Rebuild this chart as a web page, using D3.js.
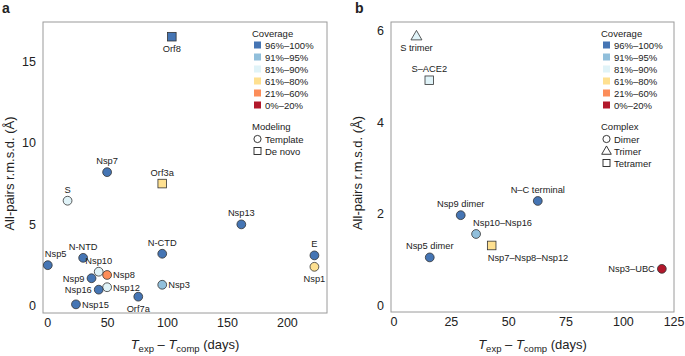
<!DOCTYPE html>
<html lang="en">
<head>
<meta charset="utf-8">
<style>
  body { margin: 0; background: #fff; }
  text { font-family: "Liberation Sans", Arial, sans-serif; fill: #222; }
</style>
</head>
<body>
<script src="https://d3js.org/d3.v7.min.js"></script>
<svg width="685" height="356"></svg>
<script>
    // coverage bins and colours
    var coverageBins = ["96%–100%", "91%–95%", "81%–90%", "61%–80%", "21%–60%", "0%–20%"];
    var coverageColors = ["#4575b4", "#91bfdb", "#e0f3f8", "#fee090", "#fc8d59", "#b2182b"];

    // panel a: single proteins
    var namesA = ["Orf8", "Nsp7", "Orf3a", "S", "Nsp13", "Nsp5", "N-NTD", "N-CTD", "E", "Nsp1",
        "Nsp10", "Nsp8", "Nsp9", "Nsp12", "Nsp3", "Nsp16", "Orf7a", "Nsp15"];
    var daysA = [104, 50, 96, 17, 162, 0.5, 30, 96, 223, 223, 43, 50, 37, 50, 96, 43, 76, 24];
    var rmsdA = [16.5, 8.2, 7.5, 6.45, 5.0, 2.5, 2.95, 3.2, 3.1, 2.4, 2.1, 1.9, 1.7, 1.15, 1.3, 1.0, 0.57, 0.1];
    var coverageA = [0, 0, 3, 2, 0, 0, 0, 0, 0, 3, 2, 4, 0, 2, 1, 0, 0, 0];
    var modelingA = ["De novo", "Template", "De novo", "Template", "Template", "Template", "Template", "Template",
        "Template", "Template", "Template", "Template", "Template", "Template", "Template", "Template", "Template", "Template"];
    var labelPosA = ["below", "above", "above", "above", "above", "aboveright", "above", "above", "above", "below",
        "above", "right", "left", "right", "right", "left", "below", "right"];

    // panel b: complexes
    var namesB = ["S trimer", "S–ACE2", "Nsp9 dimer", "Nsp10–Nsp16", "Nsp7–Nsp8–Nsp12", "Nsp5 dimer", "N–C terminal", "Nsp3–UBC"];
    var daysB = [10, 15.6, 29.3, 36, 42.8, 15.8, 62.9, 117];
    var rmsdB = [5.87, 4.91, 1.97, 1.56, 1.31, 1.05, 2.28, 0.8];
    var coverageB = [2, 2, 0, 1, 3, 0, 0, 5];
    var complexB = ["Trimer", "Tetramer", "Dimer", "Dimer", "Tetramer", "Dimer", "Dimer", "Dimer"];
    var labelPosB = ["below", "above", "above", "aboveright", "belowright", "above", "above", "left"];

    var ticksXA = [0, 50, 100, 150, 200];
    var ticksYA = [0, 5, 10, 15];
    var ticksXB = [0, 25, 50, 75, 100, 125];
    var ticksYB = [0, 2, 4, 6];

    var svg = d3.select("svg");

    function panel(opt) {
        var g = svg.append("g");
        var x = d3.scaleLinear().domain(opt.xDomain).range([opt.left, opt.right]);
        var y = d3.scaleLinear().domain(opt.yDomain).range([opt.bottom, opt.top]);

        g.append("rect")
            .attr("x", opt.left).attr("y", opt.top)
            .attr("width", opt.right - opt.left).attr("height", opt.bottom - opt.top)
            .attr("fill", "none").attr("stroke", "#9a9a9a").attr("stroke-width", 1);

        // ticks: labels only, no tick marks
        g.append("g")
            .attr("transform", "translate(" + opt.left + ",0)")
            .call(d3.axisLeft(y).tickValues(opt.yTicks).tickFormat(d3.format("d")).tickSize(0).tickPadding(7))
            .call(function (s) {
                s.select(".domain").remove();
                s.selectAll("text").attr("font-size", "12.5px").attr("font-family", "Liberation Sans, Arial, sans-serif").attr("fill", "#222");
            });
        var xa = g.append("g")
            .attr("transform", "translate(0," + opt.bottom + ")")
            .call(d3.axisBottom(x).tickValues(opt.xTicks).tickFormat(d3.format("d")).tickSize(0).tickPadding(5))
            .call(function (s) {
                s.select(".domain").remove();
                s.selectAll("text").attr("font-size", "12.5px").attr("font-family", "Liberation Sans, Arial, sans-serif").attr("fill", "#222");
            });
        // keep the last label inside the page
        xa.selectAll(".tick text").filter(function (d) { return x(d) > 670; })
            .attr("text-anchor", "end").attr("x", function (d) { return 684 - x(d); });

        // axis titles
        g.append("text")
            .attr("transform", "translate(" + opt.yTitleX + "," + ((opt.top + opt.bottom) / 2 + 6) + ") rotate(-90)")
            .attr("text-anchor", "middle")
            .attr("font-size", "13px")
            .text("All-pairs r.m.s.d. (Å)");
        var xt = g.append("text")
            .attr("x", (opt.left + opt.right) / 2 + opt.xTitleShift).attr("y", 349)
            .attr("text-anchor", "middle")
            .attr("font-size", "13px");
        xt.append("tspan").attr("font-style", "italic").text("T");
        xt.append("tspan").attr("font-size", "9.5px").attr("dy", 3).text("exp");
        xt.append("tspan").attr("dy", -3).text(" – ");
        xt.append("tspan").attr("font-style", "italic").text("T");
        xt.append("tspan").attr("font-size", "9.5px").attr("dy", 3).text("comp");
        xt.append("tspan").attr("dy", -3).text(" (days)");

        // panel letter
        g.append("text")
            .attr("x", opt.letterX).attr("y", 13)
            .attr("font-size", "14px").attr("font-weight", "bold")
            .text(opt.letter);

        // points
        var tri = d3.symbol().type(d3.symbolTriangle).size(52);
        opt.names.forEach(function (name, i) {
            var px = x(opt.days[i]), py = y(opt.rmsd[i]);
            var fill = coverageColors[opt.coverage[i]];
            var shape = opt.shapes[i];
            if (shape === "square") {
                g.append("rect")
                    .attr("x", px - 4.3).attr("y", py - 4.3)
                    .attr("width", 8.6).attr("height", 8.6)
                    .attr("fill", fill).attr("stroke", "#333").attr("stroke-width", 0.8);
            } else if (shape === "triangle") {
                g.append("path")
                    .attr("d", tri)
                    .attr("transform", "translate(" + px + "," + (py + 0.5) + ")")
                    .attr("fill", fill).attr("stroke", "#333").attr("stroke-width", 0.8);
            } else {
                g.append("circle")
                    .attr("cx", px).attr("cy", py).attr("r", 4.4)
                    .attr("fill", fill).attr("stroke", "#333").attr("stroke-width", 0.8);
            }
            var pos = opt.labelPos[i];
            var t = g.append("text").attr("font-size", "9.3px").attr("fill", "#333").text(name);
            if (pos === "above") {
                t.attr("x", px).attr("y", py - 8).attr("text-anchor", "middle");
            } else if (pos === "below") {
                t.attr("x", px).attr("y", py + 15).attr("text-anchor", "middle");
            } else if (pos === "right") {
                t.attr("x", px + 6).attr("y", py + 3.5).attr("text-anchor", "start");
            } else if (pos === "left") {
                t.attr("x", px - 7).attr("y", py + 3.5).attr("text-anchor", "end");
            } else if (pos === "aboveright") {
                t.attr("x", px - 3).attr("y", py - 8).attr("text-anchor", "start");
            } else if (pos === "belowright") {
                t.attr("x", px - 4).attr("y", py + 16).attr("text-anchor", "start");
            }
        });

        // legend
        var lx = opt.legendX;
        g.append("text").attr("x", lx).attr("y", 37).attr("font-size", "9.5px").attr("fill", "#333").text("Coverage");
        coverageBins.forEach(function (bin, i) {
            var ry = 45 + i * 12;
            g.append("rect").attr("x", lx + 2).attr("y", ry - 3.5).attr("width", 7).attr("height", 7)
                .attr("fill", coverageColors[i]);
            g.append("text").attr("x", lx + 13).attr("y", ry + 3.5).attr("font-size", "9.5px").attr("fill", "#333").text(bin);
        });
        g.append("text").attr("x", lx).attr("y", 130).attr("font-size", "9.5px").attr("fill", "#333").text(opt.shapeTitle);
        opt.shapeLegend.forEach(function (item, i) {
            var ry = 139 + i * 12;
            var cx = lx + 5.5;
            if (item[0] === "circle") {
                g.append("circle").attr("cx", cx).attr("cy", ry).attr("r", 3.6)
                    .attr("fill", "none").attr("stroke", "#222").attr("stroke-width", 0.9);
            } else if (item[0] === "square") {
                g.append("rect").attr("x", cx - 3.5).attr("y", ry - 3.5).attr("width", 7).attr("height", 7)
                    .attr("fill", "none").attr("stroke", "#222").attr("stroke-width", 0.9);
            } else {
                g.append("path").attr("d", d3.symbol().type(d3.symbolTriangle).size(40))
                    .attr("transform", "translate(" + cx + "," + (ry + 0.5) + ")")
                    .attr("fill", "none").attr("stroke", "#222").attr("stroke-width", 0.9);
            }
            g.append("text").attr("x", lx + 13).attr("y", ry + 3.5).attr("font-size", "9.5px").attr("fill", "#333").text(item[1]);
        });
    }

    panel({
        letter: "a", letterX: 2,
        left: 43, right: 327, top: 22, bottom: 313,
        xDomain: [-3.5, 233.5], yDomain: [-0.43, 17.4],
        xTicks: ticksXA, yTicks: ticksYA,
        yTitleX: 14, xTitleShift: 0,
        names: namesA, days: daysA, rmsd: rmsdA, coverage: coverageA,
        shapes: modelingA.map(function (m) { return m === "De novo" ? "square" : "circle"; }),
        labelPos: labelPosA,
        legendX: 252,
        shapeTitle: "Modeling",
        shapeLegend: [["circle", "Template"], ["square", "De novo"]]
    });

    panel({
        letter: "b", letterX: 355,
        left: 391, right: 674, top: 22, bottom: 312,
        xDomain: [-1.1, 122.3], yDomain: [-0.14, 6.18],
        xTicks: ticksXB, yTicks: ticksYB,
        yTitleX: 362, xTitleShift: 0,
        names: namesB, days: daysB, rmsd: rmsdB, coverage: coverageB,
        shapes: complexB.map(function (c) { return c === "Dimer" ? "circle" : (c === "Trimer" ? "triangle" : "square"); }),
        labelPos: labelPosB,
        legendX: 601,
        shapeTitle: "Complex",
        shapeLegend: [["circle", "Dimer"], ["triangle", "Trimer"], ["square", "Tetramer"]]
    });
</script>
</body>
</html>
